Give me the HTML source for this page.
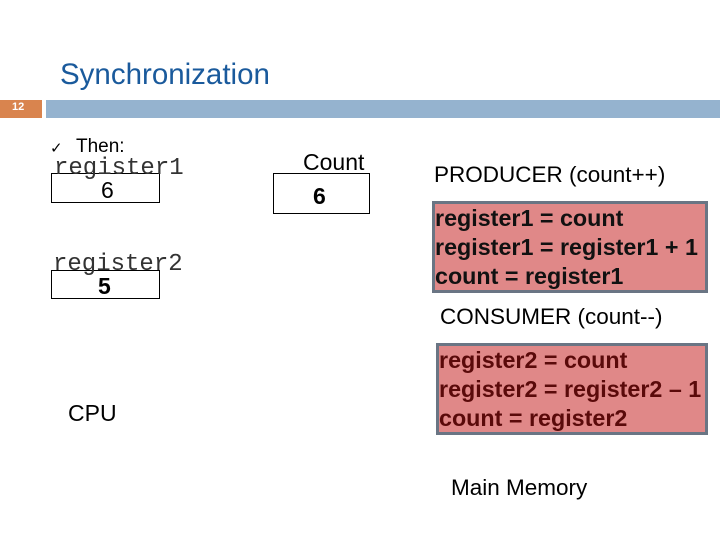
<!DOCTYPE html>
<html><head><style>
body{margin:0;width:720px;height:540px;background:#fff;position:relative;overflow:hidden;font-family:"Liberation Sans",sans-serif}
.a{position:absolute;white-space:nowrap}
.box{position:absolute;border:1px solid #000;box-sizing:border-box}
.mono{font-family:"Liberation Mono",monospace;font-size:24px;color:#333}
.red{position:absolute;background:#e08888;border:3px solid #6a7584;box-sizing:border-box;font-weight:bold;font-size:23.3px;line-height:29px;padding-left:0;white-space:nowrap;overflow:hidden}
</style></head><body>
<div class="a" style="left:60px;top:58px;font-size:29.5px;color:#1a5a9c">Synchronization</div>
<div class="a" style="left:0;top:100px;width:42px;height:18px;background:#d9844e"></div>
<div class="a" style="left:12px;top:101px;font-size:11px;color:#fff;font-weight:bold">12</div>
<div class="a" style="left:46px;top:100px;width:674px;height:18px;background:#95b3cf"></div>
<div class="a" style="left:50px;top:139px;font-size:15px">✓</div>
<div class="a" style="left:76px;top:136px;font-size:19px">Then:</div>
<div class="box" style="left:51px;top:173px;width:109px;height:30px"></div>
<div class="a mono" style="left:54px;top:155px">register1</div>
<div class="a" style="left:101px;top:177px;font-size:23px">6</div>
<div class="box" style="left:51px;top:270px;width:109px;height:29px"></div>
<div class="a mono" style="left:53px;top:251px">register2</div>
<div class="a" style="left:98px;top:273px;font-size:23px;font-weight:bold">5</div>
<div class="box" style="left:273px;top:173px;width:97px;height:41px"></div>
<div class="a" style="left:303px;top:149px;font-size:23px">Count</div>
<div class="a" style="left:313px;top:183px;font-size:23px;font-weight:bold">6</div>
<div class="a" style="left:68px;top:400px;font-size:23px">CPU</div>
<div class="a" style="left:434px;top:162px;font-size:22.5px">PRODUCER (count++)</div>
<div class="red" style="left:432px;top:201px;width:276px;height:92px;color:#111">register1 = count<br>register1 = register1 + 1<br>count = register1</div>
<div class="a" style="left:440px;top:304px;font-size:22.5px">CONSUMER (count--)</div>
<div class="red" style="left:436px;top:343px;width:272px;height:92px;color:#5a0a0a">register2 = count<br>register2 = register2 – 1<br>count = register2</div>
<div class="a" style="left:451px;top:475px;font-size:22.5px">Main Memory</div>
</body></html>
